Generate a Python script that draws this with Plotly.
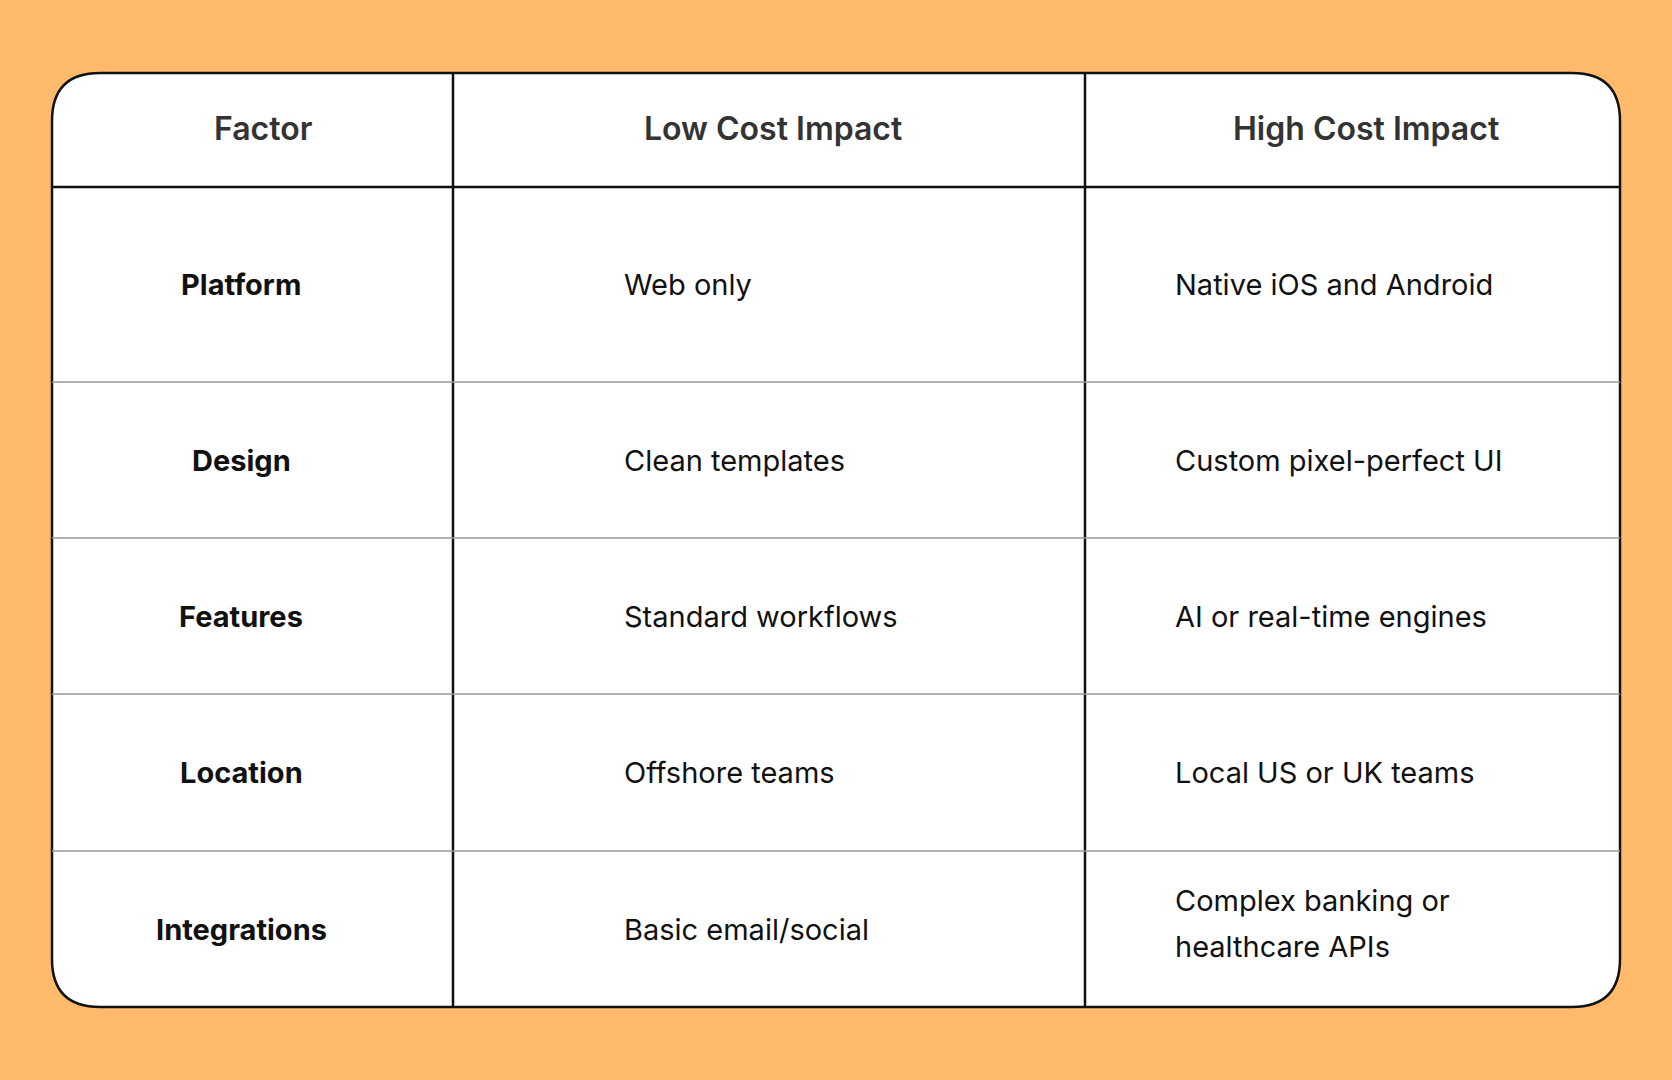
import plotly.graph_objects as go

headers = ["Factor", "Low Cost Impact", "High Cost Impact"]
factors = ["Platform", "Design", "Features", "Location", "Integrations"]
low = ["Web only", "Clean templates", "Standard workflows", "Offshore teams", "Basic email/social"]
high = [["Native iOS and Android"], ["Custom pixel-perfect UI"], ["AI or real-time engines"],
        ["Local US or UK teams"], ["Complex banking or", "healthcare APIs"]]

W, H = 1672, 1080
L, R, T, B = 52, 1620, 73, 1007
cols = [453, 1085]
rows = [187, 382, 538, 694, 851]
rad = 48

fig = go.Figure()
fig.add_trace(go.Scatter(x=[0, W], y=[0, H], mode="markers", marker=dict(opacity=0), hoverinfo="skip", showlegend=False))

path = (f"M {L+rad},{T} L {R-rad},{T} Q {R},{T} {R},{T+rad} L {R},{B-rad} Q {R},{B} {R-rad},{B} "
        f"L {L+rad},{B} Q {L},{B} {L},{B-rad} L {L},{T+rad} Q {L},{T} {L+rad},{T} Z")
shapes = [dict(type="path", path=path, fillcolor="white", line=dict(color="#111", width=2.5), layer="below")]
for c in cols:
    shapes.append(dict(type="line", x0=c, x1=c, y0=T, y1=B, line=dict(color="#111", width=2.5)))
for i, r in enumerate(rows):
    shapes.append(dict(type="line", x0=L, x1=R, y0=r, y1=r,
                       line=dict(color="#111" if i == 0 else "#999", width=2.5 if i == 0 else 1.5)))

ann = []
hx = [263, 773, 1366]
for h, x in zip(headers, hx):
    ann.append(dict(x=x, y=(T + rows[0]) / 2 - 2, text=h, showarrow=False, xanchor="center",
                    font=dict(family="Inter, Noto Sans", size=32, color="#333", weight=600)))
bounds = rows + [B]
lh = 46
for i in range(5):
    yc = (bounds[i] + bounds[i + 1]) / 2
    ann.append(dict(x=241, y=yc, text=f"<b>{factors[i]}</b>", showarrow=False, xanchor="center",
                    font=dict(family="Inter, Noto Sans", size=29, color="#111")))
    ann.append(dict(x=622, y=yc, text=low[i], showarrow=False, xanchor="left",
                    font=dict(family="Inter, Noto Sans", size=29, color="#111")))
    n = len(high[i])
    for k, line in enumerate(high[i]):
        ann.append(dict(x=1173, y=yc + (k - (n - 1) / 2) * lh - (6 if n > 1 else 0), text=line,
                        showarrow=False, xanchor="left",
                        font=dict(family="Inter, Noto Sans", size=29, color="#111")))

fig.update_layout(width=W, height=H, margin=dict(l=0, r=0, t=0, b=0),
                  paper_bgcolor="#FFBA6B", plot_bgcolor="#FFBA6B",
                  xaxis=dict(range=[0, W], visible=False, fixedrange=True),
                  yaxis=dict(range=[H, 0], visible=False, fixedrange=True),
                  shapes=shapes, annotations=ann)
fig.write_html("out.html", config={"displayModeBar": False})

with open("out.html", encoding="utf-8") as f:
    html = f.read()
html = html.replace("<head>", "<head><style>html,body{margin:0;padding:0;background:#FFBA6B;overflow:hidden}</style>", 1)
with open("out.html", "w", encoding="utf-8") as f:
    f.write(html)
